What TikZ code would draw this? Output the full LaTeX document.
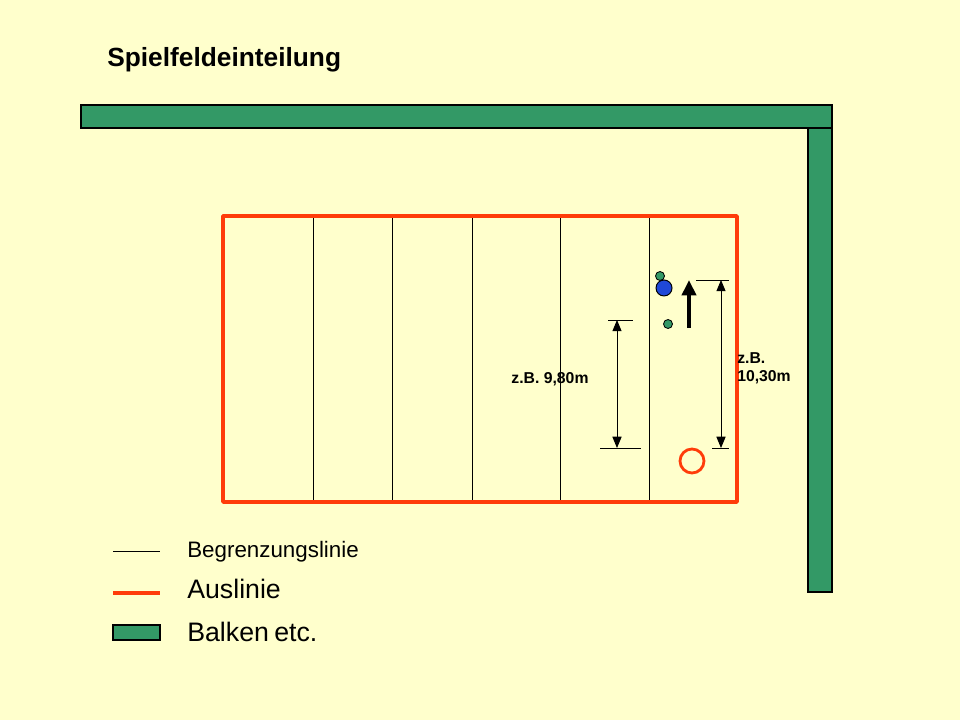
\documentclass[tikz,border=0pt]{standalone}
\usepackage{fontspec}
\setmainfont{Liberation Sans}
\usetikzlibrary{positioning,arrows.meta}
\tikzset{>={Triangle[length=8pt,width=6.5pt]}}
\definecolor{paper}{HTML}{FFFFCC}
\definecolor{balkengruen}{HTML}{339966}
\definecolor{ausrot}{HTML}{FF3C0A}
\definecolor{ballblau}{HTML}{1F48D8}
\tikzset{
  begr/.style={line width=0.65pt},
  aus/.style={draw=ausrot,line width=2.5pt,line join=round},
  balken/.style={draw=black,fill=balkengruen,line width=0.8pt},
  masz/.style={font=\bfseries\fontsize{11.2}{12.8}\selectfont,inner sep=0pt},
  legtext/.style={anchor=base west,inner sep=0pt},
}

\begin{document}
\begin{tikzpicture}[x=0.025cm,y=-0.025cm]
\fill[paper] (0,0) rectangle (960,720);
\useasboundingbox (0,0) rectangle (960,720);
\node[legtext,font=\bfseries\fontsize{18.7}{22}\selectfont] (titel) at (107,67) {Spielfeldeinteilung};
% Balken
\draw[balken] (81,105) rectangle (832,128);
\draw[balken] (808,128) rectangle (832,592);
% Spielfeld
\coordinate (lo) at (223,216);
\coordinate (ru) at (737,502);
\foreach \x in {313,392,472,560,649}
  \draw[begr] (\x,216) -- (\x,502);
\draw[aus] (lo) rectangle (ru);
% Masse
\coordinate (a1) at (617,320);
\coordinate (a2) at (617,448);
\draw[begr] (608,320) -- (633,320);
\draw[begr] (600,448) -- (641,448);
\draw[begr,<->] (a1) -- (a2);
\node[masz] (m1) at (550,379) {z.B. 9,80m};
\coordinate (b1) at (721,280);
\coordinate (b2) at (721,448);
\draw[begr] (696,280) -- (729,280);
\draw[begr] (712,448) -- (729,448);
\draw[begr,<->] (b1) -- (b2);
\node[masz,anchor=west,align=left] (m2) at (737,368) {z.B.\\10,30m};
% Spieler, Ball, Wurfrichtung
\draw[fill=balkengruen,line width=0.6pt] (660,276) circle[radius=4.5];
\draw[fill=balkengruen,line width=0.6pt] (668,324) circle[radius=4.5];
\draw[fill=ballblau,line width=0.7pt] (664,288) circle[radius=8];
\coordinate (w1) at (689,328);
\coordinate (w2) at (689,280);
\draw[line width=3.2pt,-{Triangle[length=11pt,width=10pt]}] (w1) -- (w2);
\draw[ausrot,line width=2pt] (692,461) circle[radius=12];
% Legende
\draw[begr] (113,551) -- (160,551);
\node[legtext,font=\fontsize{15.9}{18}\selectfont] (l1) at (187,557) {Begrenzungslinie};
\draw[aus] (113,593) -- (160,593);
\node[legtext,font=\fontsize{19}{22}\selectfont] (l2) at (187,598) {Auslinie};
\draw[balken] (113,625) rectangle (160,640);
\node[legtext,font=\fontsize{19}{22}\selectfont] (l3) at (187,641) {Balken\kern-1.5pt{} etc.};
\end{tikzpicture}
\end{document}
